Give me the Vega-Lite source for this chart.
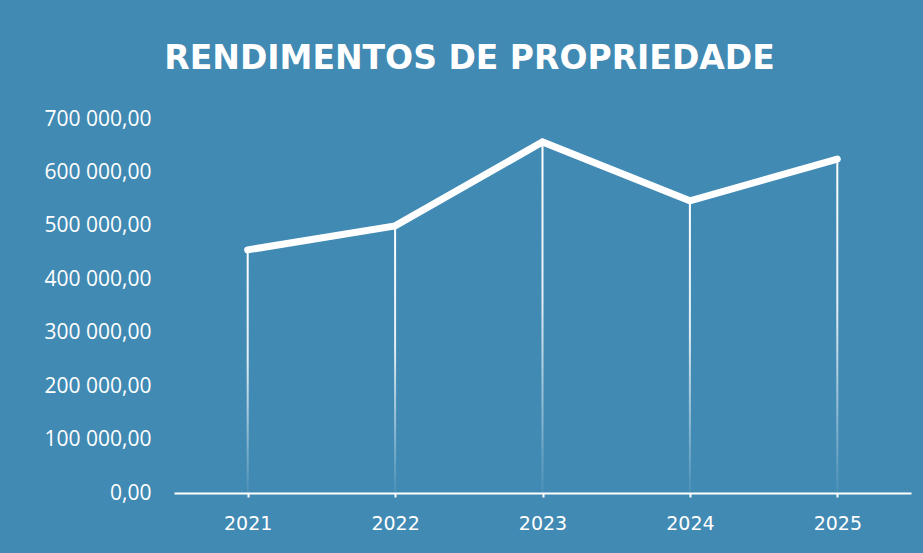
{
  "$schema": "https://vega.github.io/schema/vega-lite/v6.json",
  "autosize": {"type": "none"},
  "width": 737,
  "height": 374,
  "padding": {"left": 174, "top": 119, "right": 12, "bottom": 60},
  "background": "#418ab3",
  "config": {
    "view": {"stroke": null},
    "locale": {"number": {"decimal": ",", "thousands": " ", "grouping": [3], "currency": ["", ""]}}
  },
  "title": {
    "text": "RENDIMENTOS DE PROPRIEDADE",
    "font": "DejaVu Sans",
    "fontSize": 33,
    "fontWeight": "bold",
    "color": "white",
    "anchor": "middle",
    "frame": "bounds",
    "baseline": "alphabetic",
    "offset": 6,
    "dx": -8
  },
  "data": {
    "values": [
      {"ano": "2021", "valor": 455000},
      {"ano": "2022", "valor": 500000},
      {"ano": "2023", "valor": 657000},
      {"ano": "2024", "valor": 547000},
      {"ano": "2025", "valor": 625000}
    ]
  },
  "encoding": {
    "x": {
      "field": "ano",
      "type": "ordinal",
      "scale": {"type": "point", "padding": 0.5},
      "axis": {
        "title": null,
        "labelAngle": 0,
        "labelColor": "white",
        "labelFont": "DejaVu Sans",
        "labelFontSize": 19,
        "domainColor": "white",
        "domainWidth": 2,
        "tickColor": "white",
        "tickWidth": 2,
        "tickSize": 4,
        "labelPadding": 17,
        "grid": false
      }
    },
    "y": {
      "field": "valor",
      "type": "quantitative",
      "scale": {"domain": [0, 700000]},
      "axis": {
        "title": null,
        "format": ",.2f",
        "values": [0, 100000, 200000, 300000, 400000, 500000, 600000, 700000],
        "labelColor": "white",
        "labelFont": "Open Sans",
        "labelFontSize": 21,
        "labelPadding": 23,
        "domain": false,
        "ticks": false,
        "grid": false
      }
    }
  },
  "layer": [
    {
      "mark": {
        "type": "bar",
        "size": 2,
        "fill": {
          "gradient": "linear",
          "x1": 0, "y1": 0, "x2": 0, "y2": 1,
          "stops": [
            {"offset": 0, "color": "rgba(255,255,255,1)"},
            {"offset": 0.45, "color": "rgba(255,255,255,0.85)"},
            {"offset": 1, "color": "rgba(255,255,255,0.05)"}
          ]
        }
      }
    },
    {
      "mark": {
        "type": "line",
        "color": "white",
        "strokeWidth": 7,
        "strokeCap": "round",
        "strokeJoin": "miter"
      }
    }
  ]
}
